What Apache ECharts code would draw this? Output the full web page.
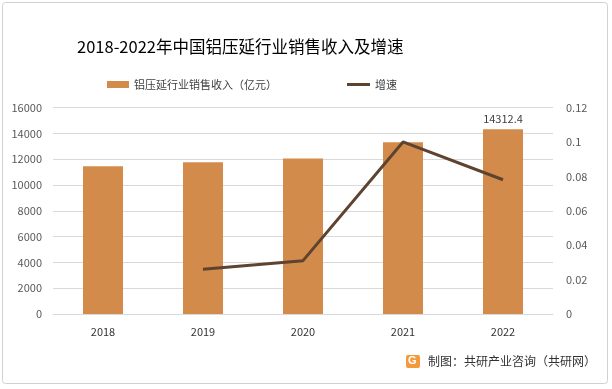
<!DOCTYPE html>
<html><head><meta charset="utf-8">
<script src="https://cdn.jsdelivr.net/npm/echarts@6/dist/echarts.min.js"></script>
<style>html,body{margin:0;padding:0;background:#fff}#c{width:612px;height:389px}</style>
</head><body><div id="c"></div>
<script>
var years = ['2018','2019','2020','2021','2022'];
var revenue = [11450, 11750, 12050, 13300, 14312.4];
var growth = [null, 0.026, 0.031, 0.1, 0.078];
var barName = '铝压延行业销售收入（亿元）';
var lineName = '增速';
var font = '"Noto Sans CJK SC","Noto Sans",sans-serif';
var chart = echarts.init(document.getElementById('c'));
chart.setOption({
  backgroundColor: '#fff',
  animation: false,
  textStyle: {fontFamily: font},
  title: {text: '2018-2022年中国铝压延行业销售收入及增速', left: 72, top: 33,
    textStyle: {fontSize: 16.5, fontWeight: 'normal', color: '#000', fontFamily: font}},
  legend: [
    {data: [barName], left: 102, top: 74, itemWidth: 22, itemHeight: 7, icon: 'rect', itemGap: 4,
      textStyle: {fontSize: 11, color: '#404040', fontFamily: font}},
    {data: [lineName], left: 342, top: 74, itemWidth: 23, itemHeight: 3, icon: 'rect', itemGap: 4,
      textStyle: {fontSize: 11, color: '#404040', fontFamily: font}}
  ],
  grid: {left: 53, right: 59, top: 107.5, bottom: 75},
  xAxis: {type: 'category', data: years,
    axisLine: {lineStyle: {color: '#d9d9d9'}}, axisTick: {show: false},
    axisLabel: {fontSize: 11, color: '#333', margin: 12}},
  yAxis: [
    {type: 'value', min: 0, max: 16000, interval: 2000,
      axisLine: {show: false}, axisTick: {show: false},
      axisLabel: {fontSize: 11, color: '#595959', margin: 11,
        formatter: function(v){return String(v);}},
      splitLine: {lineStyle: {color: '#d9d9d9'}}},
    {type: 'value', min: 0, max: 0.12, interval: 0.02,
      axisLine: {show: false}, axisTick: {show: false},
      axisLabel: {fontSize: 11, color: '#595959', margin: 13,
        formatter: function(v){return String(Math.round(v*100)/100);}},
      splitLine: {show: false}}
  ],
  series: [
    {name: barName, type: 'bar', data: revenue, barWidth: 40,
      itemStyle: {color: '#D38B4C'},
      label: {show: true, position: 'top', fontSize: 11, color: '#404040',
        formatter: function(p){return p.dataIndex === 4 ? String(p.value) : '';}}},
    {name: lineName, type: 'line', yAxisIndex: 1, data: growth, symbol: 'none',
      lineStyle: {color: '#5E4330', width: 3}, itemStyle: {color: '#5E4330'}}
  ],
  graphic: [
    {type: 'rect', shape: {x: 2.5, y: 2.5, width: 605, height: 381, r: 3}, silent: true,
      style: {fill: 'none', stroke: '#d0d0d0', lineWidth: 1}},
    {type: 'rect', shape: {x: 406, y: 355, width: 14, height: 13, r: 2},
      style: {fill: '#F39A3C'}},
    {type: 'text', left: 408, top: 355, style: {text: 'G', fill: '#fff', font: 'bold 11px sans-serif'}},
    {type: 'text', left: 428, top: 355, style: {text: '制图：共研产业咨询（共研网）', fill: '#333', font: '12px ' + font}}
  ]
});
</script></body></html>
